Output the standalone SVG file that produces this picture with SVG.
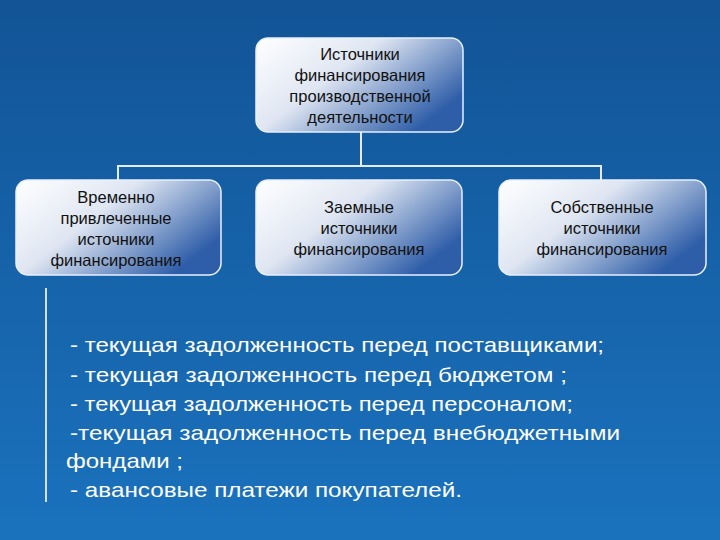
<svg xmlns="http://www.w3.org/2000/svg" width="720" height="540" viewBox="0 0 720 540">
<defs>
<linearGradient id="bg" x1="0" y1="0" x2="0" y2="1"><stop offset="0" stop-color="#125496"/><stop offset="1" stop-color="#1a72bd"/></linearGradient>
<linearGradient id="box" x1="0" y1="0" x2="1" y2="0.6"><stop offset="0" stop-color="#ffffff"/><stop offset="0.45" stop-color="#dfe6f2"/><stop offset="1" stop-color="#2f5ea8"/></linearGradient>
<style>
.b{fill:url(#box);stroke:#e8f0ff;stroke-width:1.5}
.t{font-family:"Liberation Sans",Arial,sans-serif;font-size:16.5px;fill:#111;text-anchor:middle}
.l{font-family:"Liberation Sans",Arial,sans-serif;font-size:21px;fill:#fff}
.c{stroke:#e0ecf8;stroke-width:2;fill:none}
</style>
</defs>
<rect width="720" height="540" fill="url(#bg)"/>
<g id="connectors">
<path class="c" d="M361 132V166M118 180V166H601V180"/>
<path d="M46 288V502" stroke="#d8dde6" stroke-width="2"/>
</g>
<g id="top"><rect class="b" x="256" y="38" width="207" height="94" rx="12"/>
<text class="t" x="360" y="60">Источники</text><text class="t" x="360" y="81">финансирования</text><text class="t" x="360" y="102">производственной</text><text class="t" x="360" y="123">деятельности</text></g>
<g id="n1"><rect class="b" x="16" y="180" width="205" height="95" rx="12"/>
<text class="t" x="116" y="203">Временно</text><text class="t" x="116" y="224">привлеченные</text><text class="t" x="116" y="245">источники</text><text class="t" x="116" y="266">финансирования</text></g>
<g id="n2"><rect class="b" x="256" y="180" width="206" height="95" rx="12"/>
<text class="t" x="359" y="213">Заемные</text><text class="t" x="359" y="234">источники</text><text class="t" x="359" y="255">финансирования</text></g>
<g id="n3"><rect class="b" x="499" y="180" width="207" height="95" rx="12"/>
<text class="t" x="602" y="213">Собственные</text><text class="t" x="602" y="234">источники</text><text class="t" x="602" y="255">финансирования</text></g>
<g id="list">
<text class="l" x="70" y="352" textLength="534" lengthAdjust="spacingAndGlyphs">- текущая задолженность перед поставщиками;</text>
<text class="l" x="70" y="382" textLength="497" lengthAdjust="spacingAndGlyphs">- текущая задолженность перед бюджетом ;</text>
<text class="l" x="70" y="411" textLength="503" lengthAdjust="spacingAndGlyphs">- текущая задолженность перед персоналом;</text>
<text class="l" x="70" y="440" textLength="550" lengthAdjust="spacingAndGlyphs">-текущая задолженность перед  внебюджетными</text>
<text class="l" x="66" y="468" textLength="117" lengthAdjust="spacingAndGlyphs">фондами ;</text>
<text class="l" x="70" y="497" textLength="392" lengthAdjust="spacingAndGlyphs">- авансовые платежи покупателей.</text>
</g>
</svg>
